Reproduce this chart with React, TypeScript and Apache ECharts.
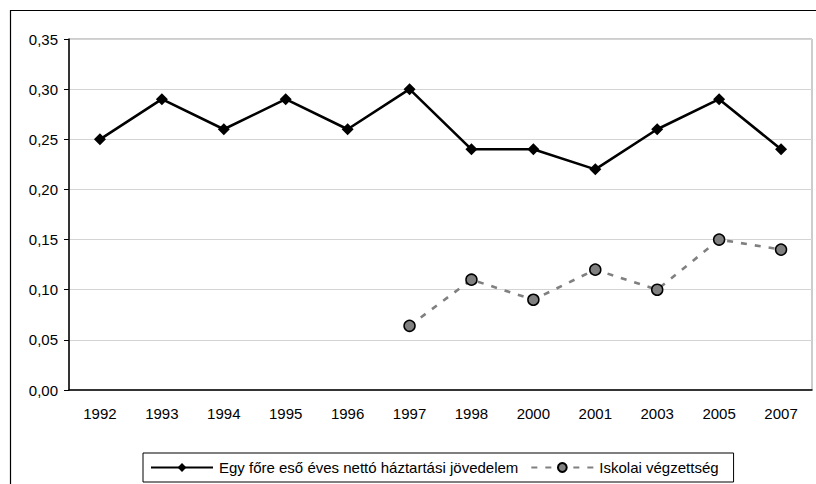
import React, { useEffect, useRef } from "react";
import * as echarts from "echarts";

const categories = ["1992", "1993", "1994", "1995", "1996", "1997", "1998", "2000", "2001", "2003", "2005", "2007"];
const incomeValues = [0.25, 0.29, 0.26, 0.29, 0.26, 0.30, 0.24, 0.24, 0.22, 0.26, 0.29, 0.24];
const educationValues: (number | null)[] = [null, null, null, null, null, 0.064, 0.11, 0.09, 0.12, 0.10, 0.15, 0.14];
const seriesNames = ["Egy főre eső éves nettó háztartási jövedelem", "Iskolai végzettség"];

const FONT = "Liberation Sans, Arial, sans-serif";

export default function App() {
  const ref = useRef<HTMLDivElement>(null);
  useEffect(() => {
    if (!ref.current) return;
    const chart = echarts.init(ref.current, undefined, { renderer: "svg" });
    chart.setOption({
      animation: false,
      backgroundColor: "#ffffff",
      textStyle: { fontFamily: FONT, color: "#000" },
      graphic: [
        {
          type: "rect",
          shape: { x: 10.5, y: 10.5, width: 830, height: 500 },
          style: { fill: "none", stroke: "#000", lineWidth: 1.2 },
          silent: true,
          z: 0,
        },
      ],
      grid: {
        left: 69,
        top: 39,
        width: 743,
        height: 351,
        show: true,
        borderColor: "#9a9a9a",
        borderWidth: 1,
        backgroundColor: "transparent",
      },
      legend: {
        left: 143,
        top: 453,
        width: 620,
        height: 30,
        borderColor: "#000",
        borderWidth: 1,
        padding: [7, 15, 7, 7],
        itemWidth: 62,
        itemHeight: 11,
        itemGap: 12,
        textStyle: { fontFamily: FONT, fontSize: 15, color: "#000", padding: [0, 0, 0, 1] },
        data: seriesNames,
      },
      xAxis: {
        type: "category",
        data: categories,
        boundaryGap: true,
        axisLine: { show: true, lineStyle: { color: "#000", width: 1.5 } },
        axisTick: { show: false },
        axisLabel: { fontFamily: FONT, fontSize: 15, color: "#000", margin: 16 },
        splitLine: { show: false },
      },
      yAxis: {
        type: "value",
        min: 0,
        max: 0.35,
        interval: 0.05,
        axisLine: { show: true, lineStyle: { color: "#000", width: 1.5 } },
        axisTick: { show: true, length: 5, lineStyle: { color: "#000" } },
        axisLabel: {
          fontFamily: FONT,
          fontSize: 15,
          color: "#000",
          margin: 11,
          formatter: (v: number) => v.toFixed(2).replace(".", ","),
        },
        splitLine: { show: true, lineStyle: { color: "#d4d4d4", width: 1.2 } },
      },
      series: [
        {
          name: seriesNames[0],
          type: "line",
          data: incomeValues,
          symbol: "diamond",
          symbolSize: 12,
          itemStyle: { color: "#000" },
          lineStyle: { color: "#000", width: 2.6 },
          z: 3,
        },
        {
          name: seriesNames[1],
          type: "line",
          data: educationValues,
          symbol: "circle",
          symbolSize: 11,
          itemStyle: { color: "#808080", borderColor: "#000", borderWidth: 1.5 },
          lineStyle: { color: "#808080", width: 2.6, type: [6, 8] },
          z: 2,
        },
      ],
    });
    return () => chart.dispose();
  }, []);
  return (
    <div
      ref={ref}
      style={{ position: "absolute", left: 0, top: 0, width: 816, height: 484 }}
    />
  );
}
